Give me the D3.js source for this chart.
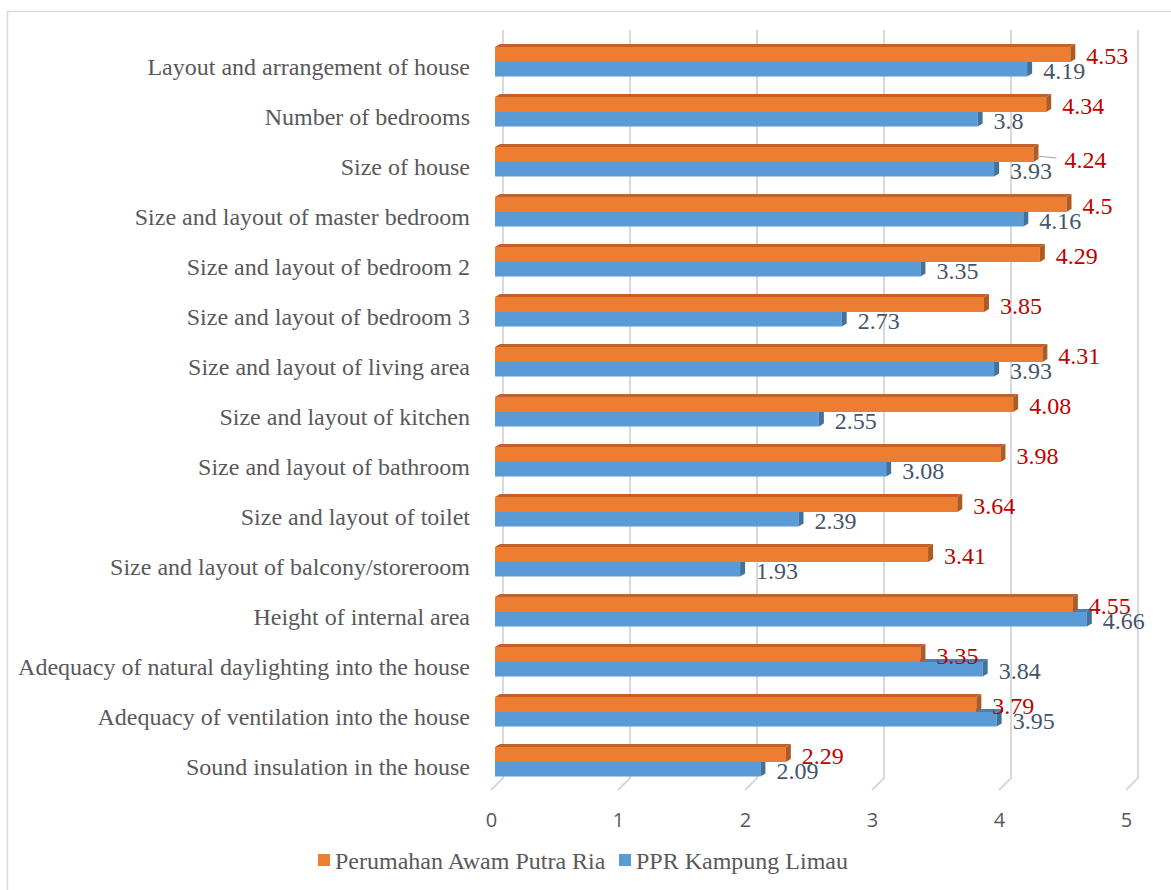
<!doctype html>
<html lang="en">
  <head>
    <meta charset="utf-8">
    <title>Housing satisfaction bar chart</title>
    <script src="https://d3js.org/d3.v7.min.js"></script>
    <style>
      body { margin: 0; background: #fff; }
    </style>
  </head>

  <body>
    <svg width="1171" height="890"></svg>
    <script>
      var categories = [
        'Layout and arrangement of house',
        'Number of bedrooms',
        'Size of house',
        'Size and layout of master bedroom',
        'Size and layout of bedroom 2',
        'Size and layout of bedroom 3',
        'Size and layout of living area',
        'Size and layout of kitchen',
        'Size and layout of bathroom',
        'Size and layout of toilet',
        'Size and layout of balcony/storeroom',
        'Height of internal area',
        'Adequacy of natural daylighting into the house',
        'Adequacy of ventilation into the house',
        'Sound insulation in the house'
      ];
      var putraRia = [4.53, 4.34, 4.24, 4.5, 4.29, 3.85, 4.31, 4.08, 3.98, 3.64, 3.41, 4.55, 3.35, 3.79, 2.29];
      var kampungLimau = [4.19, 3.8, 3.93, 4.16, 3.35, 2.73, 3.93, 2.55, 3.08, 2.39, 1.93, 4.66, 3.84, 3.95, 2.09];
      var seriesNames = ['Perumahan Awam Putra Ria', 'PPR Kampung Limau'];
      var xTicks = [0, 1, 2, 3, 4, 5];

      var svg = d3.select('svg');
      var serif = '"Liberation Serif", "Times New Roman", serif';

      // outer chart border
      svg.append('rect')
        .attr('x', 7.5).attr('y', 11.5)
        .attr('width', 1180).attr('height', 900)
        .style('fill', 'none').style('stroke', '#d9d9d9').style('stroke-width', 1.5);

      var x = d3.scaleLinear().domain([0, 5]).range([495, 1130]);
      var y = d3.scaleBand().domain(categories).range([37, 787]);
      var depthX = 5, depthY = 3;

      // gridlines on the back wall, bent forward at the floor
      svg.selectAll('path.grid')
        .data(xTicks)
        .enter()
        .append('path')
          .attr('class', 'grid')
          .attr('d', function(d){
            return 'M' + (x(d) + 8) + ',30 L' + (x(d) + 8) + ',778 L' + (x(d) - 4) + ',790';
          })
          .style('fill', 'none')
          .style('stroke', '#d9d9d9')
          .style('stroke-width', 2);

      // x axis labels on the front edge
      var xFront = d3.scaleLinear().domain([0, 5]).range([491, 1126]);
      var axis = svg.append('g')
        .attr('transform', 'translate(0,810)')
        .call(d3.axisBottom(xFront).tickValues(xTicks).tickSize(0).tickFormat(d3.format('d')));
      axis.select('.domain').remove();
      axis.selectAll('text')
        .style('font-family', '"Open Sans", sans-serif')
        .style('font-size', '20px')
        .style('fill', '#595959');

      // category labels
      svg.selectAll('text.cat')
        .data(categories)
        .enter()
        .append('text')
          .attr('class', 'cat')
          .attr('x', 470)
          .attr('y', function(d){ return y(d) + y.bandwidth() / 2 + 5; })
          .attr('text-anchor', 'end')
          .attr('dominant-baseline', 'central')
          .style('font-family', serif)
          .style('font-size', '24px')
          .style('fill', '#595959')
          .text(function(d){ return d; });

      // a 3D bar: front face, top face, side face
      var drawBar = function(g, value, top, h, c){
        var x0 = x(0), xe = x(value);
        g.append('polygon')
          .attr('points', [[x0, top], [x0 + depthX, top - depthY], [xe + depthX, top - depthY], [xe, top]].join(' '))
          .style('fill', c.top);
        g.append('rect')
          .attr('x', x0).attr('y', top)
          .attr('width', xe - x0).attr('height', h)
          .style('fill', c.front);
        g.append('polygon')
          .attr('points', [[xe, top], [xe + depthX, top - depthY], [xe + depthX, top + h - depthY], [xe, top + h]].join(' '))
          .style('fill', c.side);
      };

      var orange = { front: '#ed7d31', top: '#c2622a', side: '#ae5a21' };
      var blue = { front: '#5b9bd5', top: '#4a7fb3', side: '#41719c' };

      var bars = svg.append('g');
      categories.forEach(function(cat, i){
        var c = y(cat) + y.bandwidth() / 2;
        var g = bars.append('g');
        drawBar(g, kampungLimau[i], c, 14.5, blue);
        drawBar(g, putraRia[i], c - 15, 15, orange);
      });

      // data labels
      var labels = svg.append('g')
        .style('font-family', serif)
        .style('font-size', '24px');

      categories.forEach(function(cat, i){
        var c = y(cat) + y.bandwidth() / 2;
        var ox = x(putraRia[i]) + 16, oy = c - 6;
        if (cat === 'Size of house') {
          // this label was dragged away from its bar, with a leader line
          labels.append('path')
            .attr('d', 'M' + (x(putraRia[i]) + 3) + ',' + (c - 6) + ' L' + (ox + 7) + ',' + (c - 4))
            .style('fill', 'none').style('stroke', '#a6a6a6').style('stroke-width', 1.2);
          ox += 15; oy += 4;
        }
        labels.append('text')
          .attr('x', ox).attr('y', oy)
          .attr('dominant-baseline', 'central')
          .style('fill', '#c00000')
          .text(putraRia[i]);
        labels.append('text')
          .attr('x', x(kampungLimau[i]) + 16).attr('y', c + 9)
          .attr('dominant-baseline', 'central')
          .style('fill', '#44546a')
          .text(kampungLimau[i]);
      });

      // legend
      var legend = svg.append('g');
      var legendX = [318, 619];
      var legendColors = [orange.front, blue.front];
      seriesNames.forEach(function(name, i){
        legend.append('rect')
          .attr('x', legendX[i]).attr('y', 854)
          .attr('width', 12).attr('height', 12)
          .style('fill', legendColors[i]);
        legend.append('text')
          .attr('x', legendX[i] + 17).attr('y', 861)
          .attr('dominant-baseline', 'central')
          .style('font-family', serif)
          .style('font-size', '24px')
          .style('fill', '#595959')
          .text(name);
      });
    </script>
  </body>
</html>
